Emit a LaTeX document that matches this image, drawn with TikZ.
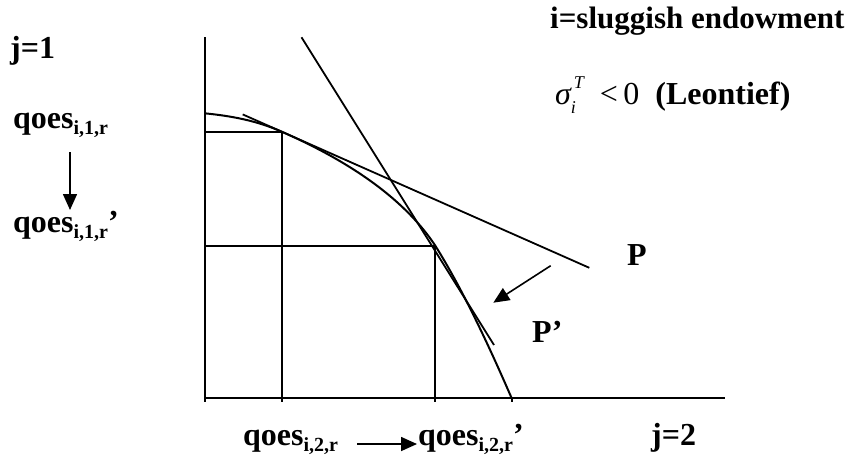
\documentclass[tikz,border=0pt]{standalone}
\usepackage{fontspec}
\setmainfont{Liberation Serif}
\usetikzlibrary{arrows.meta}
\newcommand\lblfont{\fontsize{32}{38}\selectfont\bfseries}
\newcommand\subtxt[1]{\raisebox{-0.2em}{\fontsize{20}{22}\selectfont\bfseries #1}}
\begin{document}
\begin{tikzpicture}[x=1pt,y=-1pt,
  axisline/.style={line width=2pt},
  thinline/.style={line width=1.8pt},
  curveline/.style={line width=2pt},
  shiftarrow/.style={line width=1.6pt,-{Triangle[length=16pt,width=14pt]}},
  lbl/.style={anchor=base west,inner sep=0pt,font=\lblfont}]
\useasboundingbox (0,0) rectangle (856,464);
% key points
\coordinate (O) at (204.7,398.3);
\coordinate (Ytop) at (204.7,37);
\coordinate (Ybot) at (204.7,402);
\coordinate (Xend) at (725,398.3);
\coordinate (A) at (204.7,113.3);
\coordinate (B) at (281.7,131.7);
\coordinate (C) at (435.3,245.7);
\coordinate (D) at (511.7,398.3);
\coordinate (By) at (204.7,131.7);
\coordinate (Cy) at (204.7,245.7);
\coordinate (Bx) at (281.7,402);
\coordinate (Cx) at (435.3,402);
\coordinate (Dx) at (511.7,402);
\coordinate (F1) at (242.7,114.4);
\coordinate (F2) at (589.3,267.8);
\coordinate (S1) at (301.5,37.3);
\coordinate (S2) at (494,345);
\coordinate (PA1) at (550.7,265.7);
\coordinate (PA2) at (493.3,302.7);
% axes
\draw[axisline] (Ytop) -- (Ybot);
\draw[axisline] (O) -- (Xend);
\draw[axisline] (D) -- (Dx);
% boxes
\draw[thinline] (By) -- (B) -- (Bx);
\draw[thinline] (Cy) -- (C) -- (Cx);
% frontier
\draw[curveline] (A) .. controls (230.4,115.9) and (256,120.3) .. (B)
  .. controls (355.2,163.9) and (406.4,202) .. (C)
  .. controls (460.8,286.5) and (486.2,339.4) .. (D);
% price lines
\draw[thinline] (F1) -- (F2);
\draw[thinline] (S1) -- (S2);
\draw[shiftarrow] (PA1) -- (PA2);
% labels
\node[lbl] (j1) at (10,58) {j=1};
\node[lbl] (q1) at (13,128) {qoes\subtxt{i,1,r}};
\node[lbl] (q1p) at (13,232) {qoes\subtxt{i,1,r}’};
\coordinate (LA1) at (70,152);
\coordinate (LA2) at (70,210);
\draw[shiftarrow] (LA1) -- (LA2);
\node[lbl,font=\fontsize{31}{36}\selectfont\bfseries] (title) at (550,28) {i=sluggish endowment};
\node[lbl] (sig) at (555,104) {\mdseries\itshape σ\rlap{\raisebox{0.5em}{\fontsize{18}{18}\selectfont\,T}}\raisebox{-0.3em}{\fontsize{18}{18}\selectfont i}\upshape\ \ \ <\,0\ \ \bfseries(Leontief)};
\node[lbl] (P) at (627,265) {P};
\node[lbl] (Pp) at (532,342) {P’};
\node[lbl] (q2) at (243,445) {qoes\subtxt{i,2,r}};
\node[lbl] (q2p) at (418,445) {qoes\subtxt{i,2,r}’};
\coordinate (BA1) at (357,444);
\coordinate (BA2) at (417,444);
\draw[shiftarrow] (BA1) -- (BA2);
\node[lbl] (j2) at (651,445) {j=2};
\end{tikzpicture}
\end{document}
